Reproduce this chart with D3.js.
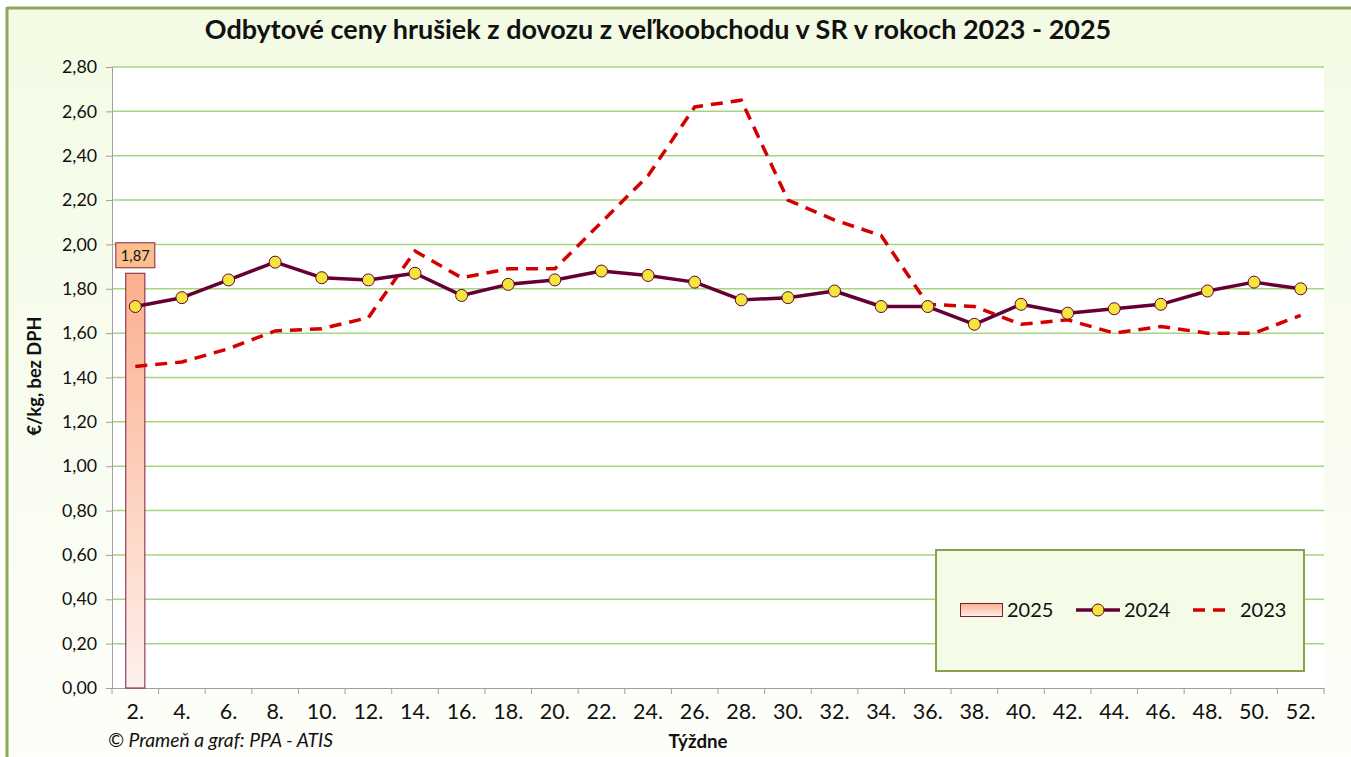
<!DOCTYPE html>
<html>
<head>
<meta charset="utf-8">
<script src="https://cdn.jsdelivr.net/npm/d3@7"></script>
<style>
  body { margin: 0; background: #fff; }
  svg { display: block; font-family: Lato, "Open Sans", sans-serif; }
</style>
</head>
<body>
<svg id="chart" width="1351" height="757"></svg>
<script>
// weeks on the x axis
var weeks = ['2.', '4.', '6.', '8.', '10.', '12.', '14.', '16.', '18.', '20.', '22.', '24.', '26.',
  '28.', '30.', '32.', '34.', '36.', '38.', '40.', '42.', '44.', '46.', '48.', '50.', '52.']

// 2025 - only one week so far
var values2025 = [1.87]

var values2024 = [1.72, 1.76, 1.84, 1.92, 1.85, 1.84, 1.87, 1.77, 1.82, 1.84, 1.88, 1.86, 1.83,
  1.75, 1.76, 1.79, 1.72, 1.72, 1.64, 1.73, 1.69, 1.71, 1.73, 1.79, 1.83, 1.80]

var values2023 = [1.45, 1.47, 1.53, 1.61, 1.62, 1.67, 1.97, 1.85, 1.89, 1.89, 2.10, 2.31, 2.62,
  2.65, 2.20, 2.11, 2.04, 1.73, 1.72, 1.64, 1.66, 1.60, 1.63, 1.60, 1.60, 1.68]

var yTicks = [0, 0.2, 0.4, 0.6, 0.8, 1.0, 1.2, 1.4, 1.6, 1.8, 2.0, 2.2, 2.4, 2.6, 2.8]

var title = 'Odbytové ceny hrušiek z dovozu z veľkoobchodu v SR v rokoch 2023 - 2025'

var skFormat = d3.formatLocale({ decimal: ',', thousands: ' ', grouping: [3], currency: ['', ' €'] }).format('.2f')

// scale the font of a text so that it gets the wanted width
function fitWidth (sel, width) {
  var fs = +sel.attr('font-size')
  var w = sel.node().getComputedTextLength()
  sel.attr('font-size', fs * width / w)
  return fs * width / w
}

var svg = d3.select('#chart')
var defs = svg.append('defs')

var bgGrad = defs.append('linearGradient').attr('id', 'bg-grad').attr('x1', 0).attr('y1', 0).attr('x2', 0).attr('y2', 1)
bgGrad.append('stop').attr('offset', '0%').attr('stop-color', '#f3fbe4')
bgGrad.append('stop').attr('offset', '100%').attr('stop-color', '#fdfef9')

var barGrad = defs.append('linearGradient').attr('id', 'bar-grad').attr('x1', 0).attr('y1', 0).attr('x2', 0).attr('y2', 1)
barGrad.append('stop').attr('offset', '0%').attr('stop-color', '#fbb08e')
barGrad.append('stop').attr('offset', '100%').attr('stop-color', '#fff0ec')

// outer background + border
svg.append('rect').attr('x', 0).attr('y', 0).attr('width', 1351).attr('height', 757).attr('fill', '#fff')
svg.append('rect').attr('x', 7).attr('y', 8).attr('width', 1344).attr('height', 749).attr('fill', 'url(#bg-grad)')
svg.append('line').attr('x1', 7).attr('y1', 8).attr('x2', 1351).attr('y2', 8).attr('stroke', '#8ea85a').attr('stroke-width', 3)
svg.append('line').attr('x1', 7).attr('y1', 7).attr('x2', 7).attr('y2', 757).attr('stroke', '#8ea85a').attr('stroke-width', 3)

var plotLeft = 112, plotRight = 1324, plotTop = 67, plotBottom = 688

var x = d3.scaleBand().domain(weeks).range([plotLeft, plotRight]).padding(0)
var y = d3.scaleLinear().domain([0, 2.8]).range([plotBottom, plotTop])

// plot area
svg.append('rect').attr('x', plotLeft).attr('y', plotTop)
  .attr('width', plotRight - plotLeft).attr('height', plotBottom - plotTop).attr('fill', '#fff')

// gridlines
svg.append('g')
  .selectAll('line')
  .data(yTicks.filter(d => d > 0))
  .join('line')
  .attr('x1', plotLeft).attr('x2', plotRight)
  .attr('y1', d => y(d)).attr('y2', d => y(d))
  .attr('stroke', '#a6d67f').attr('stroke-width', 1.5)

// y axis
var yAxis = svg.append('g')
  .attr('transform', 'translate(' + plotLeft + ',0)')
  .call(d3.axisLeft(y).tickValues(yTicks).tickFormat(skFormat).tickSize(6).tickPadding(9))
yAxis.select('.domain').attr('stroke', '#a0a0a0')
yAxis.selectAll('.tick line').attr('stroke', '#a0a0a0')
yAxis.selectAll('text').attr('font-size', 15).attr('fill', '#111').attr('font-family', 'Lato, sans-serif')
var yFs = fitWidth(yAxis.selectAll('text').filter(d => d === 2.8), 35)
yAxis.selectAll('text').attr('font-size', yFs)

// x axis (ticks between the categories)
var xAxis = svg.append('g')
  .attr('transform', 'translate(0,' + plotBottom + ')')
  .call(d3.axisBottom(x).tickSize(0).tickPadding(16))
xAxis.select('.domain').attr('stroke', '#a0a0a0')
xAxis.selectAll('text').attr('font-size', 15).attr('fill', '#111').attr('font-family', 'Lato, sans-serif')
var xFs = fitWidth(xAxis.selectAll('text').filter(d => d === '52.'), 30)
xAxis.selectAll('text').attr('font-size', xFs)
xAxis.selectAll('.sep')
  .data(weeks.concat(['end']))
  .join('line')
  .classed('sep', true)
  .attr('x1', (d, i) => plotLeft + i * x.bandwidth())
  .attr('x2', (d, i) => plotLeft + i * x.bandwidth())
  .attr('y1', 0).attr('y2', 6)
  .attr('stroke', '#a0a0a0')

// 2025 bar
var barW = x.bandwidth() * 0.41
svg.append('g')
  .selectAll('rect')
  .data(values2025)
  .join('rect')
  .attr('x', (d, i) => x(weeks[i]) + (x.bandwidth() - barW) / 2)
  .attr('y', d => y(d))
  .attr('width', barW)
  .attr('height', d => y(0) - y(d))
  .attr('fill', 'url(#bar-grad)')
  .attr('stroke', '#7d1a40').attr('stroke-width', 1)

// bar label
var lbl = svg.append('g')
values2025.forEach(function (d, i) {
  var cx = x(weeks[i]) + x.bandwidth() / 2
  var ly = y(d) - 18
  lbl.append('rect')
    .attr('x', cx - 19.5).attr('y', ly - 12.5).attr('width', 39).attr('height', 25)
    .attr('fill', '#fbbf8f').attr('stroke', '#8b2045').attr('stroke-width', 1)
  var lt = lbl.append('text')
    .attr('x', cx).attr('y', ly + 5.5)
    .attr('text-anchor', 'middle').attr('font-size', 14).attr('fill', '#111')
    .text(skFormat(d))
  fitWidth(lt, 29)
})

var line = d3.line()
  .x((d, i) => x(weeks[i]) + x.bandwidth() / 2)
  .y(d => y(d))

// 2023 dashed
svg.append('path')
  .datum(values2023)
  .attr('d', line)
  .attr('fill', 'none')
  .attr('stroke', '#d40000').attr('stroke-width', 3.5)
  .attr('stroke-dasharray', '12,8')

// 2024 line with markers
svg.append('path')
  .datum(values2024)
  .attr('d', line)
  .attr('fill', 'none')
  .attr('stroke', '#650035').attr('stroke-width', 3.5)
  .attr('stroke-linejoin', 'round')

svg.append('g')
  .selectAll('circle')
  .data(values2024)
  .join('circle')
  .attr('cx', (d, i) => x(weeks[i]) + x.bandwidth() / 2)
  .attr('cy', d => y(d))
  .attr('r', 6)
  .attr('fill', '#f2e53c')
  .attr('stroke', '#650035').attr('stroke-width', 1)

// legend
var lg = svg.append('g')
lg.append('rect').attr('x', 936).attr('y', 550).attr('width', 368).attr('height', 121)
  .attr('fill', '#f4fce8').attr('stroke', '#86a24c').attr('stroke-width', 2)
lg.append('rect').attr('x', 960.5).attr('y', 603.5).attr('width', 42).attr('height', 13)
  .attr('fill', 'url(#bar-grad)').attr('stroke', '#7d1a40').attr('stroke-width', 1)
lg.append('text').attr('x', 1007).attr('y', 617).attr('font-size', 20).attr('fill', '#111').text('2025')
lg.append('line').attr('x1', 1076).attr('x2', 1120).attr('y1', 610).attr('y2', 610)
  .attr('stroke', '#650035').attr('stroke-width', 3.5)
lg.append('circle').attr('cx', 1098).attr('cy', 610).attr('r', 6)
  .attr('fill', '#f2e53c').attr('stroke', '#650035').attr('stroke-width', 1)
lg.append('text').attr('x', 1124).attr('y', 617).attr('font-size', 20).attr('fill', '#111').text('2024')
lg.append('line').attr('x1', 1193).attr('x2', 1233).attr('y1', 610).attr('y2', 610)
  .attr('stroke', '#d40000').attr('stroke-width', 3.5).attr('stroke-dasharray', '12,8')
lg.append('text').attr('x', 1240).attr('y', 617).attr('font-size', 20).attr('fill', '#111').text('2023')

// titles
var t = svg.append('text')
  .attr('x', 658).attr('y', 39)
  .attr('text-anchor', 'middle')
  .attr('font-weight', 'bold').attr('font-size', 24).attr('fill', '#111')
  .text(title)
fitWidth(t, 907)

var yt = svg.append('text')
  .attr('transform', 'translate(41,376) rotate(-90)')
  .attr('text-anchor', 'middle')
  .attr('font-weight', 'bold').attr('font-size', 14).attr('fill', '#111')
  .text('€/kg, bez DPH')
fitWidth(yt, 119)

var xt = svg.append('text')
  .attr('x', 698).attr('y', 748)
  .attr('text-anchor', 'middle')
  .attr('font-weight', 'bold').attr('font-size', 15).attr('fill', '#111')
  .text('Týždne')
fitWidth(xt, 59)

var ft = svg.append('text')
  .attr('x', 108).attr('y', 747)
  .attr('font-style', 'italic').attr('font-size', 15).attr('fill', '#111')
  .text('© Prameň a graf: PPA - ATIS')
fitWidth(ft, 225)
</script>
</body>
</html>
